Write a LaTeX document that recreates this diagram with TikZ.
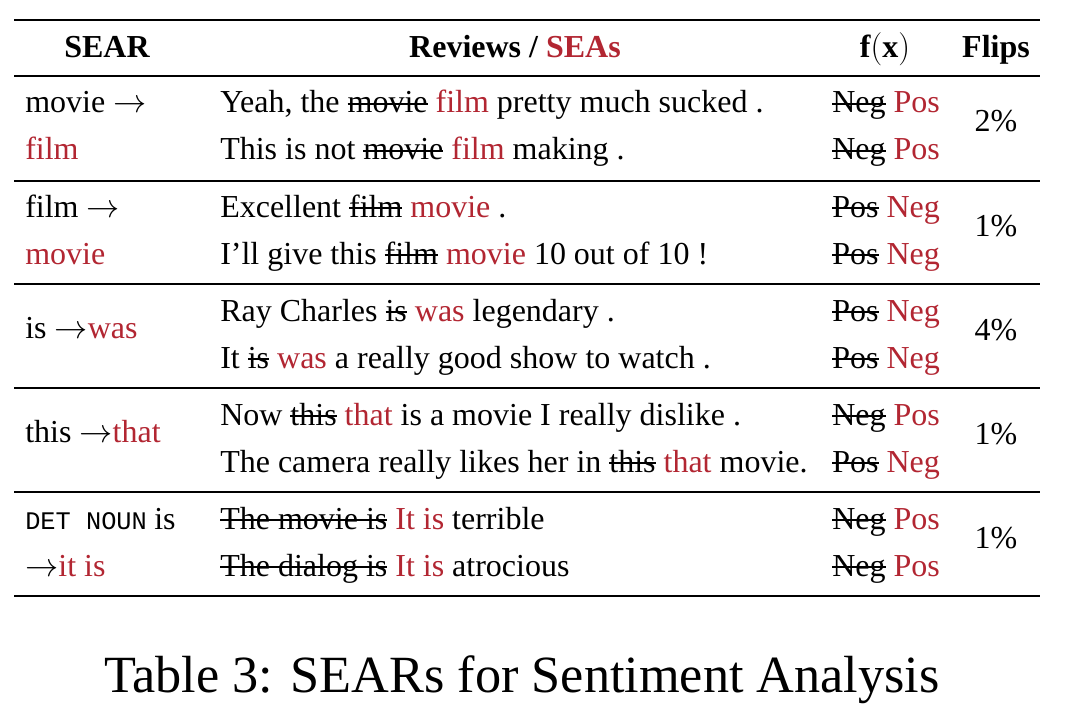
\documentclass[tikz,border=0pt]{standalone}
\usepackage{fontspec}
\setmainfont{Liberation Serif}
\setmonofont{Liberation Mono}
\definecolor{sred}{RGB}{178,38,50}
\newcommand\strk[1]{\sbox0{#1}\rlap{\rule[0.26em]{\wd0}{0.065em}}\usebox0}
\newcommand\rd[1]{\textcolor{sred}{#1}}
\tikzset{
  txt/.style={anchor=base west, inner sep=0pt, font=\fontsize{24}{28}\selectfont},
  ctr/.style={anchor=base, inner sep=0pt, font=\fontsize{24}{28}\selectfont},
  hd/.style={anchor=base, inner sep=0pt, font=\fontsize{24}{28}\selectfont\bfseries},
  mono/.style={anchor=base west, inner sep=0pt, font=\ttfamily\fontsize{19}{22}\selectfont},
  thick rule/.style={line width=2.2pt},
  thin rule/.style={line width=1.1pt},
}
\begin{document}
\begin{tikzpicture}[x=0.75pt,y=-0.75pt]
\useasboundingbox (0,0) rectangle (1068,724);
% rules
\draw[thick rule] (14,20) -- (1040,20);
\draw[thin rule] (14,76) -- (1040,76);
\foreach \yy in {181,284,388,492} \draw[thin rule] (14,\yy) -- (1040,\yy);
\draw[thick rule] (14,596) -- (1040,596);
% header
\node[hd] (h1) at (107,58) {SEAR};
\node[hd] (h2) at (515,58) {Reviews / \rd{SEAs}};
\node[hd] (h3) at (885,58) {$\mathbf{f}(\mathbf{x})$};
\node[hd] (h4) at (996,58) {Flips};
% row 1
\node[txt] (s1a) at (25,113) {movie $\rightarrow$};
\node[txt] (s1b) at (25,160) {\rd{film}};
\node[txt] (r1a) at (220,113) {Yeah, the \strk{movie} \rd{film} pretty much sucked .};
\node[txt] (r1b) at (220,160) {This is not \strk{movie} \rd{film} making .};
\node[txt] (f1a) at (832,113) {\strk{Neg} \rd{Pos}};
\node[txt] (f1b) at (832,160) {\strk{Neg} \rd{Pos}};
\node[ctr] (p1) at (996,132) {2\%};
% row 2
\node[txt] (s2a) at (25,217) {film $\rightarrow$};
\node[txt] (s2b) at (25,264) {\rd{movie}};
\node[txt] (r2a) at (220,217) {Excellent \strk{film} \rd{movie} .};
\node[txt] (r2b) at (220,264) {I’ll give this \strk{film} \rd{movie} 10 out of 10 !};
\node[txt] (f2a) at (832,217) {\strk{Pos} \rd{Neg}};
\node[txt] (f2b) at (832,264) {\strk{Pos} \rd{Neg}};
\node[ctr] (p2) at (996,236) {1\%};
% row 3
\node[txt] (s3) at (25,338) {is $\rightarrow$\rd{was}};
\node[txt] (r3a) at (220,321) {Ray Charles \strk{is} \rd{was} legendary .};
\node[txt] (r3b) at (220,368) {It \strk{is} \rd{was} a really good show to watch .};
\node[txt] (f3a) at (832,321) {\strk{Pos} \rd{Neg}};
\node[txt] (f3b) at (832,368) {\strk{Pos} \rd{Neg}};
\node[ctr] (p3) at (996,340) {4\%};
% row 4
\node[txt] (s4) at (25,442) {this $\rightarrow$\rd{that}};
\node[txt] (r4a) at (220,425) {Now \strk{this} \rd{that} is a movie I really dislike .};
\node[txt] (r4b) at (220,472) {The camera really likes her in \strk{this} \rd{that} movie.};
\node[txt] (f4a) at (832,425) {\strk{Neg} \rd{Pos}};
\node[txt] (f4b) at (832,472) {\strk{Pos} \rd{Neg}};
\node[ctr] (p4) at (996,444) {1\%};
% row 5
\node[mono] (s5a) at (25,529) {DET NOUN};
\node[txt] (s5x) at (154,529) {is};
\node[txt] (s5b) at (25,576) {$\rightarrow$\rd{it is}};
\node[txt] (r5a) at (220,529) {\strk{The movie is} \rd{It is} terrible};
\node[txt] (r5b) at (220,576) {\strk{The dialog is} \rd{It is} atrocious};
\node[txt] (f5a) at (832,529) {\strk{Neg} \rd{Pos}};
\node[txt] (f5b) at (832,576) {\strk{Neg} \rd{Pos}};
\node[ctr] (p5) at (996,548) {1\%};
% caption
\node[anchor=base, inner sep=0pt, font=\fontsize{39.2}{47}\selectfont] (cap) at (522,692) {Table 3: SEARs for Sentiment Analysis};
\end{tikzpicture}
\end{document}
